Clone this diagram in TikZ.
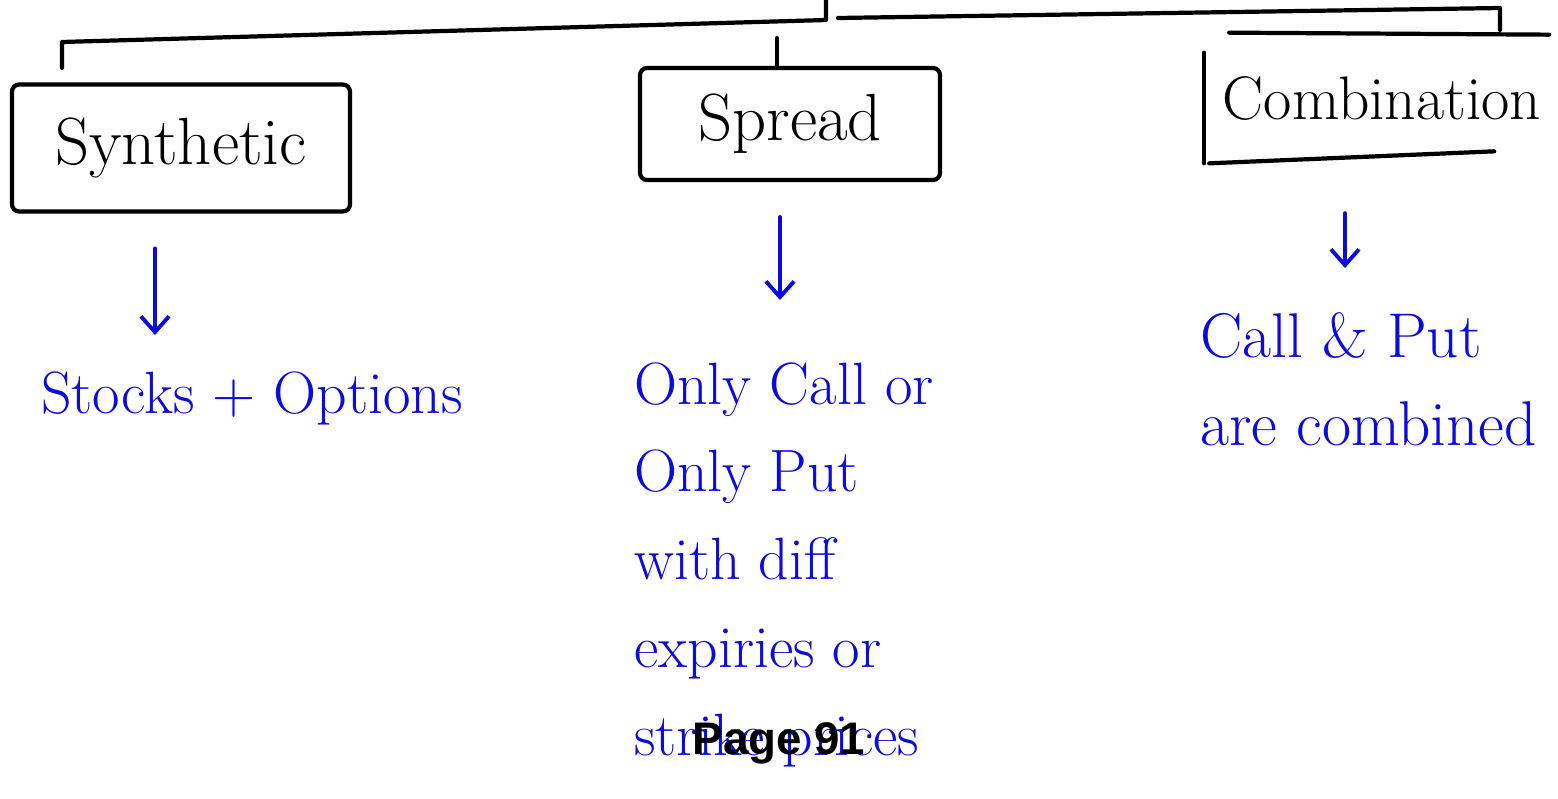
\documentclass[tikz,border=0pt]{standalone}
\usepackage{fontspec}
\newfontfamily\pagefont{Liberation Sans}
\usetikzlibrary{arrows.meta}
\definecolor{inkblue}{RGB}{10,10,225}
\tikzset{
  catbox/.style={draw, line width=2.4pt, rounded corners=4pt, inner sep=0pt,
    font=\fontsize{38}{44}\selectfont},
  tree/.style={line width=2.4pt, line cap=round, line join=round},
  note/.style={text=inkblue, align=left, inner sep=0pt,
    font=\fontsize{34}{50}\selectfont},
  qarrow/.style={-{Straight Barb[length=9pt,width=16pt,line width=2.2pt]},
    draw=inkblue, line width=2.4pt, line cap=round}
}

\begin{document}
\begin{tikzpicture}[x=0.02cm, y=-0.02cm]
    \useasboundingbox (0,0) rectangle (1558,798);
    % three kinds of strategy
    \node[catbox, minimum width=6.76cm, minimum height=2.54cm] (synth) at (181,148) {Synthetic};
    \node[catbox, minimum width=6cm, minimum height=2.24cm] (spread) at (790,124) {Spread};
    \node[inner sep=0pt, minimum width=7.1cm, minimum height=2.6cm,
      font=\fontsize{35}{42}\selectfont] (combo) at (1382,98) {Combination};
    \draw[tree] (combo.north west) ++(25,0) -- ++(320,2);
    \draw[tree] (combo.north west) ++(0,20) -- (combo.south west);
    \draw[tree] (combo.south west) ++(5,0) -- ++(285,-12);
    % bracket on top
    \coordinate (root) at (826,0);
    \coordinate (lend) at (62,68);
    \coordinate (rend) at (1500,30);
    \draw[tree] (root) -- ++(0,20) -- (62,42) -- (lend);
    \draw[tree] (838,18) -- (1500,8) -- (rend);
    \draw[tree] (777,38) -- (spread.north -| 777,0);
    % what each one is
    \node[note] (stocks) at (252,398) {Stocks + Options};
    \node[note, anchor=north west] (onlycall) at (634,362)
      {Only Call or\\Only Put\\with diff\\expiries or\\strike prices};
    \node[note, anchor=north west, font=\fontsize{36}{50}\selectfont] (callput) at (1200,312)
      {Call \& Put\\are combined};
    \draw[qarrow] (synth.south -| 155,0) ++(0,35) -- (155,335);
    \draw[qarrow] (spread.south -| 780,0) ++(0,35) -- (780,300);
    \draw[qarrow] (combo.south -| 1345,0) ++(0,50) -- (1345,268);
    \node[font=\pagefont\bfseries\fontsize{26}{30}\selectfont, inner sep=0pt] (page) at (779,743) {Page 91};
\end{tikzpicture}
\end{document}
